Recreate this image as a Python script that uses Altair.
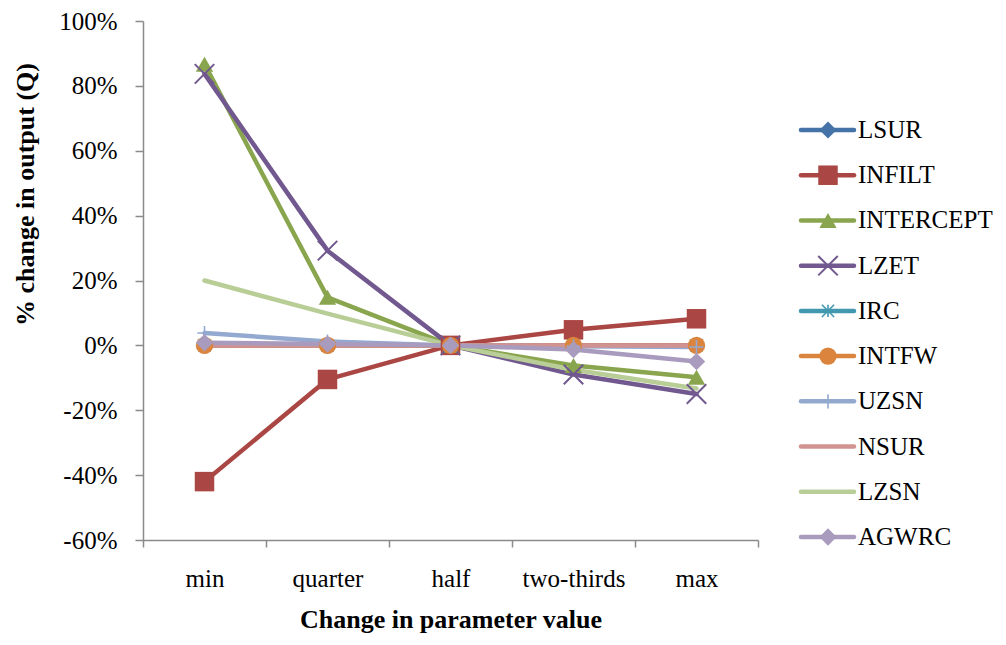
import altair as alt
import pandas as pd

categories = ["min", "quarter", "half", "two-thirds", "max"]
names = ["LSUR", "INFILT", "INTERCEPT", "LZET", "IRC", "INTFW", "UZSN", "NSUR", "LZSN", "AGWRC"]
colors = ["#4572A7", "#AA4643", "#89A54E", "#71588F", "#4198AF", "#DB843D", "#93A9CF", "#D19392", "#B9CD96", "#A99BBD"]

LSUR = [0, 0, 0, 0, 0]
INFILT = [-42, -10.5, 0, 4.8, 8.2]
INTERCEPT = [86.7, 14.8, 0, -6.2, -9.8]
LZET = [83.7, 29.2, 0, -9.0, -15.0]
IRC = [0, 0, 0, 0, 0]
INTFW = [0, 0, 0, 0, 0]
UZSN = [3.8, 1.2, 0, -0.3, -0.5]
NSUR = [0, 0, 0, 0, 0]
LZSN = [20.0, 9.8, 0, -7.5, -13.3]
AGWRC = [0.8, 0.4, 0, -1.3, -5.0]

series = [LSUR, INFILT, INTERCEPT, LZET, IRC, INTFW, UZSN, NSUR, LZSN, AGWRC]

rows = []
for n, vals in zip(names, series):
    for c, v in zip(categories, vals):
        rows.append({"name": n, "cat": c, "value": v})
df = pd.DataFrame(rows)
leg_df = pd.DataFrame({"name": names})

FONT = "Liberation Serif"

X_PATH = "M-1,-1L1,1M-1,1L1,-1"
STAR_PATH = "M-1,-1L1,1M-1,1L1,-1M0,-1L0,1"
PLUS_PATH = "M0,-1L0,1M-1,0L1,0"
# marker style per series: (shape, size, filled, strokeWidth)
marker_style = {
    "LSUR": ("diamond", 290, True, 0),
    "INFILT": ("square", 380, True, 0),
    "INTERCEPT": ("triangle-up", 300, True, 0),
    "LZET": (X_PATH, 380, False, 2),
    "IRC": (STAR_PATH, 150, False, 1.6),
    "INTFW": ("circle", 300, True, 0),
    "UZSN": (PLUS_PATH, 200, False, 1.6),
    "AGWRC": ("diamond", 300, True, 0),
}

color = alt.Color("name:N", scale=alt.Scale(domain=names, range=colors), legend=None)

x = alt.X(
    "cat:N",
    sort=categories,
    scale=alt.Scale(type="band", domain=categories, paddingInner=0, paddingOuter=0),
    axis=alt.Axis(
        title="Change in parameter value",
        labelAngle=0,
        tickBand="extent",
        tickSize=7,
        labelPadding=19,
        titlePadding=15,
    ),
)
y = alt.Y(
    "value:Q",
    scale=alt.Scale(domain=[-60, 100], nice=False, zero=False),
    axis=alt.Axis(
        title="% change in output (Q)",
        values=[-60, -40, -20, 0, 20, 40, 60, 80, 100],
        labelExpr="datum.value + '%'",
        tickSize=8,
        labelPadding=18,
        titlePadding=20,
        titleAnchor="middle",
        titleY=173,
        grid=False,
    ),
)

lines = alt.Chart(df).mark_line(strokeWidth=4.5, strokeCap="round", strokeJoin="round").encode(
    x=x, y=y, color=color, detail="name:N"
)


def marker_layer(data, n, xenc, yenc):
    shape, size, filled, sw = marker_style[n]
    kw = dict(shape=shape, size=size, filled=filled, opacity=1)
    if not filled:
        kw["strokeWidth"] = sw
    return alt.Chart(data).transform_filter(
        alt.FieldEqualPredicate(field="name", equal=n)
    ).mark_point(**kw).encode(x=xenc, y=yenc, color=color)


main_layers = [lines] + [marker_layer(df, n, x, y) for n in names if n in marker_style]
main = alt.layer(*main_layers)

ly = alt.Y("name:N", sort=names, scale=alt.Scale(type="point", domain=names, range=[109, 516], padding=0), axis=None)

leg_rule = alt.Chart(leg_df).mark_rule(strokeWidth=4.5, strokeCap="round").encode(
    x=alt.value(658), x2=alt.value(711), y=ly, color=color
)
leg_markers = [marker_layer(leg_df, n, alt.value(685), ly) for n in names if n in marker_style]
leg_text = alt.Chart(leg_df).mark_text(
    align="left", baseline="middle", font=FONT, fontSize=25, color="black"
).encode(x=alt.value(715), y=ly, text="name:N")

legend = alt.layer(leg_rule, *leg_markers, leg_text)

chart = alt.layer(main, legend).resolve_scale(y="independent").properties(
    width=615,
    height=519,
    autosize=alt.AutoSizeParams(type="none"),
    padding={"left": 135, "top": 13, "right": 240, "bottom": 97},
).configure_view(stroke=None).configure_axis(
    labelFont=FONT,
    labelFontSize=25,
    labelColor="black",
    titleFont=FONT,
    titleFontSize=26,
    titleFontWeight="bold",
    titleColor="black",
    domainColor="#8a8a8a",
    domainWidth=1.5,
    tickColor="#8a8a8a",
    tickWidth=1.5,
)

chart.save("out.html", embed_options={"renderer": "svg", "actions": False})
